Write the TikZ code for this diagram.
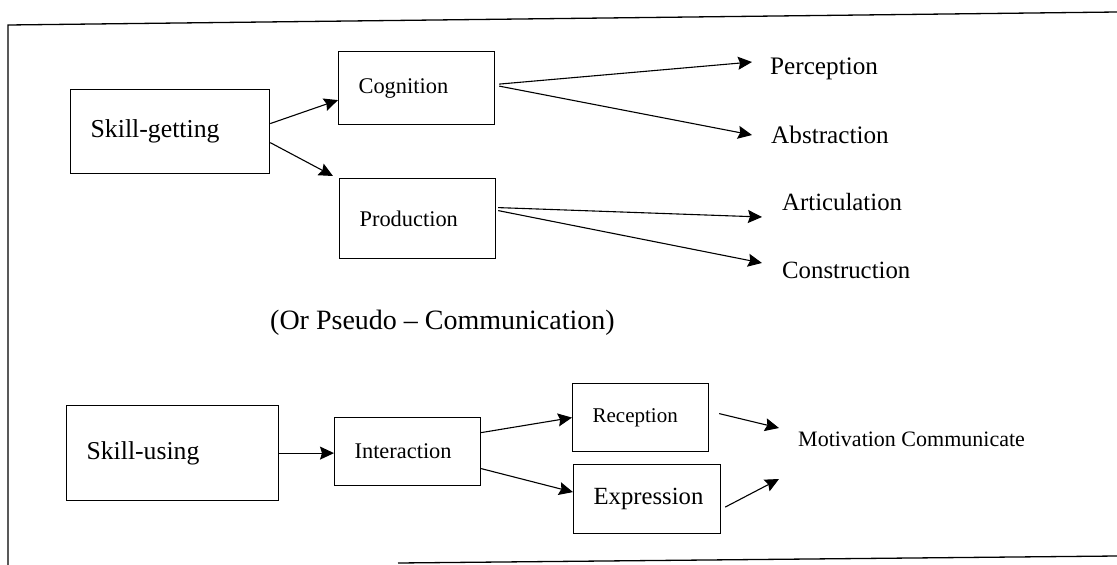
\documentclass[tikz,border=0pt]{standalone}
\usepackage{fontspec}
\setmainfont{Liberation Serif}
\usetikzlibrary{arrows.meta}
\tikzset{
  box/.style={draw, line width=1.2pt, anchor=north west, inner xsep=20pt, inner ysep=0pt, align=left},
  word/.style={anchor=west, inner sep=0pt},
  link/.style={line width=1.1pt, -{Stealth[length=14pt, width=13pt, inset=2pt]}}
}
\begin{document}
\begin{tikzpicture}[x=1pt, y=-1pt]
      \useasboundingbox (0,0) rectangle (1117,565);
      % frame
      \draw[line width=1.3pt] (1117,12) -- (8,25) -- (8,565);
      \draw[line width=1.3pt] (398,563) -- (1117,556);
      % skill-getting part
      \node[box, text width=159pt, minimum width=199pt, minimum height=84pt, font=\fontsize{25.8}{30}\selectfont] (sg) at (70,89) {Skill-getting};
      \node[box, text width=116pt, minimum width=156pt, minimum height=73pt, font=\fontsize{22.4}{26}\selectfont] (cog) at (338,51) {Cognition};
      \node[box, text width=116pt, minimum width=156pt, minimum height=80pt, font=\fontsize{22.4}{26}\selectfont] (prod) at (339,178) {Production};
      \node[word, font=\fontsize{25.2}{30}\selectfont] (perc) at (770,69) {Perception};
      \node[word, font=\fontsize{25.2}{30}\selectfont] (abst) at (771,135) {Abstraction};
      \node[word, font=\fontsize{24.8}{30}\selectfont] (artic) at (782,202) {Articulation};
      \node[word, font=\fontsize{24.8}{30}\selectfont] (constr) at (782,270) {Construction};
      \node[word, font=\fontsize{28}{32}\selectfont] (pseudo) at (270,323) {(Or Pseudo -- Communication)};
      % skill-using part
      \node[box, text width=172pt, minimum width=212pt, minimum height=95pt, font=\fontsize{25.7}{30}\selectfont] (su) at (66,405) {Skill-using};
      \node[box, text width=106pt, minimum width=146pt, minimum height=68pt, font=\fontsize{22.4}{26}\selectfont] (inter) at (334,417) {Interaction};
      \node[box, text width=96pt, minimum width=136pt, minimum height=68pt, font=\fontsize{21}{25}\selectfont] (recep) at (572,383) {Reception};
      \node[box, text width=107pt, minimum width=147pt, minimum height=69pt, font=\fontsize{24.7}{29}\selectfont] (expr) at (573,464) {Expression};
      \node[word, font=\fontsize{22}{26}\selectfont] (motiv) at (798,439) {Motivation Communicate};
      \begin{scope}[link]
        \draw ([yshift=8pt]sg.east) to ([yshift=-12pt]cog.west);
        \draw ([yshift=-11pt]sg.east) to ([xshift=-6pt, yshift=2pt]prod.north west);
        \draw ([xshift=4pt, yshift=4pt]cog.east) to ([xshift=-18pt, yshift=7pt]perc.west);
        \draw ([xshift=4pt, yshift=2pt]cog.east) to ([xshift=-19pt]abst.west);
        \draw ([xshift=2pt, yshift=11pt]prod.east) to ([xshift=-20pt, yshift=-15pt]artic.west);
        \draw ([xshift=2pt, yshift=8pt]prod.east) to ([xshift=-20pt, yshift=7pt]constr.west);
        \draw (su.east) to (su.east -| inter.west);
        \draw ([yshift=19pt]inter.east) to (recep.west);
        \draw ([yshift=-17pt]inter.east) to ([yshift=7pt]expr.west);
        \draw ([xshift=10pt, yshift=4pt]recep.east) to ([xshift=-19pt, yshift=11pt]motiv.west);
        \draw ([xshift=4pt, yshift=-8pt]expr.east) to ([xshift=-19pt, yshift=-40pt]motiv.west);
      \end{scope}
    \end{tikzpicture}
\end{document}
